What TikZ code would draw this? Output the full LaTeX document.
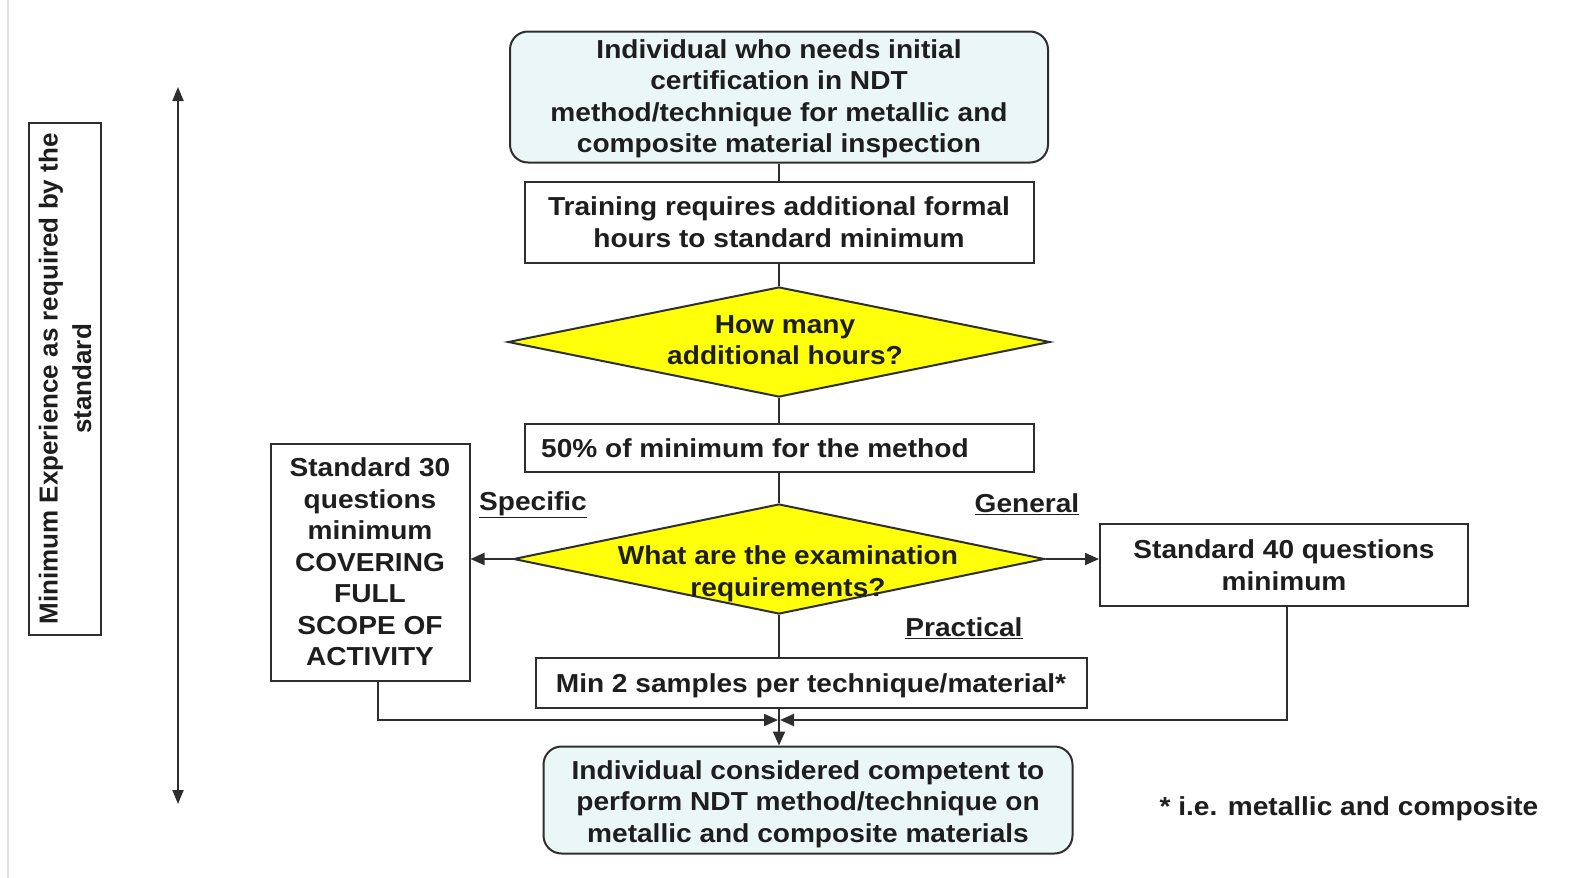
\documentclass[tikz,border=0pt]{standalone}
\usepackage{fontspec}
\setmainfont{Liberation Sans}[FakeStretch=1.08]
\newfontfamily\plainfont{Liberation Sans}
\usetikzlibrary{shapes.geometric,arrows.meta,positioning,calc}
\definecolor{ln}{HTML}{2E2E2E}
\definecolor{txt}{HTML}{1E1E1E}
\definecolor{cyanfill}{HTML}{EAF7F6}
\definecolor{yel}{HTML}{FFFF0A}
\tikzset{
  base/.style={draw=ln, line width=2pt, text=txt, font=\bfseries\fontsize{26}{31.5}\selectfont, align=center, inner sep=0pt},
  rbox/.style={base, rectangle, rounded corners=18pt, fill=cyanfill},
  sbox/.style={base, rectangle, fill=white},
  dia/.style={draw=ln, line width=2pt, diamond, fill=yel, inner sep=0pt},
  dtext/.style={text=txt, font=\bfseries\fontsize{26}{31.5}\selectfont, align=center, inner sep=0pt},
  lbl/.style={text=txt, font=\bfseries\fontsize{26}{31.5}\selectfont, inner sep=0pt},
  conn/.style={draw=ln, line width=2pt},
  arr/.style={conn, -{Triangle[length=14pt,width=12pt]}},
}
\begin{document}
\begin{tikzpicture}[x=1pt,y=-1pt]
\useasboundingbox (0,0) rectangle (1593,878);
\fill[white] (0,0) rectangle (1593,878);
\draw[black!12, line width=1.5pt] (8,0) -- (8,878);

% nodes
\node[rbox, minimum width=538pt, minimum height=131pt] (top) at (779,97) {};
\node[dtext] (topt) at (779,99)
  {Individual who needs initial\\certification in NDT\\method/technique for metallic and\\composite material inspection};
\node[sbox, minimum width=509pt, minimum height=81pt] (train) at (779,222)
  {Training requires additional formal\\hours to standard minimum};
\node[dia, minimum width=542pt, minimum height=110pt] (d1) at (779,342) {};
\node[dtext] (d1t) at (785,340) {How many\\additional hours?};
\node[sbox, minimum width=509pt, minimum height=48pt] (fifty) at (779,448) {};
\node[dtext, anchor=west] (fiftyt) at (541,448) {50\% of minimum for the method};
\node[dia, minimum width=531pt, minimum height=110pt] (d2) at (779,559) {};
\node[dtext] (d2t) at (788,574) {What are the examination\\requirements?};
\node[sbox, minimum width=199pt, minimum height=237pt] (left) at (370,562)
  {Standard 30\\questions\\minimum\\COVERING\\FULL\\SCOPE OF\\ACTIVITY};
\node[sbox, minimum width=368pt, minimum height=82pt] (right) at (1284,565)
  {Standard 40 questions\\minimum};
\node[sbox, minimum width=551pt, minimum height=50pt] (min2) at (811,683) {};
\node[dtext] (min2t) at (811,686) {Min 2 samples per technique/material*};
\node[rbox, minimum width=529pt, minimum height=107pt] (bot) at (808,800) {};
\node[dtext] (bott) at (808,804)
  {Individual considered competent to\\perform NDT method/technique on\\metallic and composite materials};

% labels
\node[lbl] (spec) at (533,505) {\underline{Specific}};
\node[lbl] (gen) at (1027,504) {\underline{General}};
\node[lbl] (prac) at (964,628) {\underline{Practical}};
\node[lbl] (foot) at (1349,809) {* i.e. metallic and composite};

% side box
\node[sbox, rotate=90, minimum width=512pt, minimum height=72pt, font=\plainfont\bfseries\fontsize{26}{33.5}\selectfont] (exp) at (65,379)
  {Minimum Experience as required by the\\standard};
\coordinate (atop) at (178,87);
\coordinate (abot) at (178,804);
\draw[conn, {Triangle[length=14pt,width=11pt]}-{Triangle[length=14pt,width=11pt]}] (atop) -- (abot);

% connectors
\draw[conn] (top.south) -- (train.north);
\draw[conn] (train.south) -- (d1.north);
\draw[conn] (d1.south) -- (fifty.north -| d1.south);
\draw[conn] (fifty.south -| d2.north) -- (d2.north);
\draw[arr] (d2.west) -- (left.east |- d2.west);
\draw[arr] (d2.east) -- (right.west |- d2.east);
\draw[conn] (d2.south) -- (min2.north -| d2.south);
\coordinate (j) at (779,720);
\draw[arr] (min2.south -| d2.south) -- (bot.north -| d2.south);
\draw[arr, shorten >=1pt] ($(left.south)+(8,0)$) |- (j);
\draw[arr, shorten >=1pt] ($(right.south)+(3,0)$) |- (j);
\end{tikzpicture}
\end{document}
